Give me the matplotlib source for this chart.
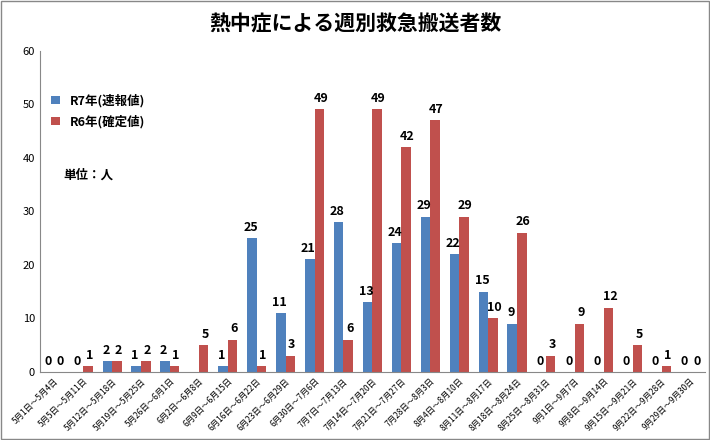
import numpy as np
import matplotlib.pyplot as plt

plt.rcParams['font.family'] = 'Noto Sans CJK JP'

weeks = ['5月1日～5月4日', '5月5日～5月11日', '5月12日～5月18日', '5月19日～5月25日',
         '5月26日～6月1日', '6月2日～6月8日', '6月9日～6月15日', '6月16日～6月22日',
         '6月23日～6月29日', '6月30日～7月6日', '7月7日～7月13日', '7月14日～7月20日',
         '7月21日～7月27日', '7月28日～8月3日', '8月4日～8月10日', '8月11日～8月17日',
         '8月18日～8月24日', '8月25日～8月31日', '9月1日～9月7日', '9月8日～9月14日',
         '9月15日～9月21日', '9月22日～9月28日', '9月29日～9月30日']
r7 = [0, 0, 2, 1, 2, 0, 1, 25, 11, 21, 28, 13, 24, 29, 22, 15, 9, 0, 0, 0, 0, 0, 0]
r6 = [0, 1, 2, 2, 1, 5, 6, 1, 3, 49, 6, 49, 42, 47, 29, 10, 26, 3, 9, 12, 5, 1, 0]
r7_hidden = [5]  # no label shown in the source

fig = plt.figure(figsize=(7.1, 4.4), dpi=100)
ax = fig.add_axes([0.056, 0.155, 0.937, 0.73])
x = np.arange(len(weeks))
w = 0.33
ax.bar(x - w / 2, r7, w, color='#4F81BD', label='R7年(速報値)')
ax.bar(x + w / 2, r6, w, color='#C0504D', label='R6年(確定値)')
for i, v in enumerate(r7):
    if i not in r7_hidden:
        ax.text(x[i] - w / 2 - 0.05, v + 0.8, str(v), ha='center', va='bottom', fontsize=9, fontweight='bold')
for i, v in enumerate(r6):
    ax.text(x[i] + w / 2 + 0.05, v + 0.8, str(v), ha='center', va='bottom', fontsize=9, fontweight='bold')

ax.set_ylim(0, 60)
ax.set_yticks(range(0, 61, 10))
ax.set_xlim(-0.5, len(weeks) - 0.5)
ax.set_xticks(x)
ax.set_xticklabels(weeks, rotation=45, ha='right', rotation_mode='anchor', fontsize=6)
ax.tick_params(axis='y', labelsize=8, length=0)
ax.tick_params(axis='x', length=0)
for s in ['top', 'right']:
    ax.spines[s].set_visible(False)
ax.spines['left'].set_color('#888888')
ax.spines['bottom'].set_color('#888888')

ax.legend(loc='upper left', bbox_to_anchor=(0.0, 0.9), frameon=False,
          prop={'size': 9, 'weight': 'bold'},
          handlelength=0.7, handleheight=0.7, labelspacing=0.6)
ax.text(0.035, 0.6, '単位：人', transform=ax.transAxes, fontsize=9, fontweight='bold')
fig.text(0.5, 0.945, '熱中症による週別救急搬送者数', ha='center', va='center', fontsize=15, fontweight='bold')

rect = plt.Rectangle((0.002, 0.002), 0.996, 0.996, transform=fig.transFigure, fill=False,
                     edgecolor='#888888', linewidth=1)
fig.add_artist(rect)
fig.savefig('out.png')
